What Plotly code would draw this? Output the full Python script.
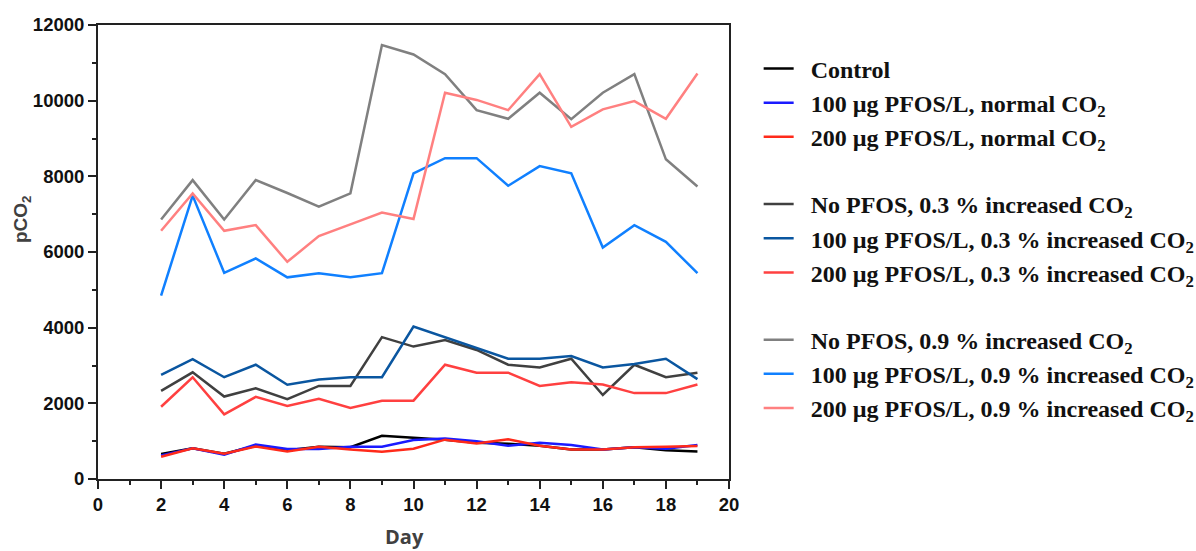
import plotly.graph_objects as go

days = list(range(2, 20))

control = [660, 810, 670, 880, 760, 850, 840, 1140, 1090, 1040, 960, 930, 880, 780, 780, 840, 760, 730]
pfos100_normal = [620, 810, 640, 910, 790, 790, 850, 850, 1030, 1070, 1000, 880, 960, 900, 780, 840, 800, 900]
pfos200_normal = [590, 810, 670, 860, 730, 850, 780, 720, 800, 1040, 940, 1050, 880, 780, 780, 840, 850, 870]

nopfos_03 = [2330, 2820, 2180, 2400, 2110, 2460, 2460, 3750, 3500, 3670, 3410, 3020, 2950, 3180, 2220, 3020, 2690, 2810]
pfos100_03 = [2750, 3170, 2690, 3020, 2490, 2630, 2690, 2690, 4030, 3750, 3470, 3180, 3180, 3250, 2950, 3040, 3180, 2640]
pfos200_03 = [1910, 2690, 1710, 2170, 1930, 2120, 1880, 2070, 2070, 3020, 2810, 2810, 2460, 2560, 2500, 2270, 2270, 2500]

nopfos_09 = [6860, 7900, 6860, 7900, 7560, 7200, 7550, 11470, 11220, 10700, 9750, 9520, 10210, 9510, 10210, 10700, 8450, 7730]
pfos100_09 = [4850, 7490, 5450, 5830, 5330, 5440, 5330, 5440, 8080, 8480, 8480, 7750, 8270, 8080, 6120, 6710, 6270, 5440]
pfos200_09 = [6560, 7550, 6560, 6710, 5740, 6420, 6730, 7040, 6870, 10210, 10020, 9750, 10700, 9310, 9770, 9990, 9520, 10720]

series = [
    ("Control", control, "#000000", "g1"),
    ("100 µg PFOS/L, normal CO<sub>2</sub>", pfos100_normal, "#1a1aff", "g1"),
    ("200 µg PFOS/L, normal CO<sub>2</sub>", pfos200_normal, "#ff2a1a", "g1"),
    ("No PFOS, 0.3 % increased CO<sub>2</sub>", nopfos_03, "#404040", "g2"),
    ("100 µg PFOS/L, 0.3 % increased CO<sub>2</sub>", pfos100_03, "#0a56a0", "g2"),
    ("200 µg PFOS/L, 0.3 % increased CO<sub>2</sub>", pfos200_03, "#ff4040", "g2"),
    ("No PFOS, 0.9 % increased CO<sub>2</sub>", nopfos_09, "#808080", "g3"),
    ("100 µg PFOS/L, 0.9 % increased CO<sub>2</sub>", pfos100_09, "#1080ff", "g3"),
    ("200 µg PFOS/L, 0.9 % increased CO<sub>2</sub>", pfos200_09, "#ff8080", "g3"),
]

fig = go.Figure()
for name, vals, color, grp in series:
    fig.add_trace(go.Scatter(x=days, y=vals, mode="lines", name="\u00a0\u00a0" + name,
                             line=dict(color=color, width=2.5), legendgroup=grp))

tickfont = dict(family="Liberation Sans, Arial", size=18.5, color="#111111", weight="bold")

fig.update_layout(
    width=1196, height=551,
    margin=dict(l=98, r=467, t=25, b=72, autoexpand=False),
    paper_bgcolor="white", plot_bgcolor="white",
    showlegend=True,
    legend=dict(x=1.047, y=0.953, xanchor="left", yanchor="top",
                font=dict(family="Liberation Serif, Times New Roman", size=24, color="#111111", weight="bold"),
                tracegroupgap=33, traceorder="grouped", bgcolor="rgba(0,0,0,0)"),
    xaxis=dict(range=[0, 20], tickmode="linear", tick0=0, dtick=2, ticks="outside", ticklen=8, tickwidth=1.5,
               tickcolor="#222", showline=True, linecolor="#222", linewidth=2, mirror=True, showgrid=False,
               zeroline=False, tickfont=tickfont, tickformat="d",
               minor=dict(dtick=1, ticks="outside", ticklen=4, tickwidth=1.5, tickcolor="#222", showgrid=False)),
    yaxis=dict(range=[0, 12000], tickmode="linear", tick0=0, dtick=2000, ticks="outside", ticklen=8, tickwidth=1.5,
               tickcolor="#222", showline=True, linecolor="#222", linewidth=2, mirror=True, showgrid=False,
               zeroline=False, tickfont=tickfont, tickformat="d",
               minor=dict(dtick=1000, ticks="outside", ticklen=4, tickwidth=1.5, tickcolor="#222", showgrid=False)),
    annotations=[
        dict(text="pCO<sub>2</sub>", x=(22 - 98) / 631, y=(479 - 219) / 454, xref="paper", yref="paper",
             xanchor="center", yanchor="middle", showarrow=False, textangle=-90,
             font=dict(family="Liberation Sans, Arial", size=19, color="#404040", weight="bold")),
        dict(text="Day", x=0.485, y=-0.16, xref="paper", yref="paper", showarrow=False,
             font=dict(family="Open Sans, Liberation Sans", size=20, color="#404040", weight="bold")),
    ],
)

fig.write_html("out.html")
